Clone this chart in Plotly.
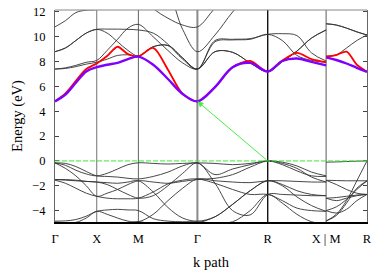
import plotly.graph_objects as go

# ---------------- k-path sample positions ----------------
k_main = [0.0, 0.125, 0.25, 0.375, 0.5, 0.625, 0.75, 0.875, 1.0,
          1.177, 1.354, 1.53, 1.707, 1.918, 2.129, 2.339, 2.55,
          2.725, 2.9, 3.075, 3.25]
k_mr = [3.25, 3.372, 3.495, 3.618, 3.74]
tick_pos = [0.0, 0.5, 1.0, 1.707, 2.55, 3.25, 3.74]
tick_text = ["Γ", "X", "M", "Γ", "R", "X | M", "R"]
y_ticks = [-4, -2, 0, 2, 4, 6, 8, 10, 12]

# ---------------- band energies (eV): 21 values along Γ-X-M-Γ-R-X, then 5 along M-R ----------------
cb_purple = [4.8, 5.35, 6.3, 7.2, 7.55, 7.75, 7.9, 8.2, 8.4, 7.75, 6.6, 5.4, 4.8,
             5.95, 7.55, 7.9, 7.2, 8.05, 8.25, 7.98, 7.7,
             8.35, 8.13, 7.85, 7.5, 7.18]
cb_red = [4.8, 5.45, 6.45, 7.4, 7.85, 8.45, 9.2, 8.6, 8.42, 9.1, 7.35, 5.4, 4.8,
          5.95, 7.55, 8.05, 7.2, 8.1, 8.7, 8.2, 7.95,
          8.42, 8.53, 8.8, 7.75, 7.18]
cb_b1 = [10.8, 11.3, 11.95, 12.15, 12.2, 12.6, 13.2, 13.6, 13.8, 12.3, 11.5, 10.95, 10.8,
         12.3, 13.5, 14.0, 14.2, 14.0, 13.5, 12.9, 12.4,
         13.8, 13.9, 14.0, 14.1, 14.2]
cb_b2 = [8.8, 9.1, 9.7, 10.3, 10.6, 10.62, 10.62, 10.6, 10.55, 10.3, 9.4, 8.2, 7.4,
         9.7, 9.8, 9.85, 10.2, 10.25, 10.1, 8.7, 8.05,
         11.05, 10.95, 10.7, 10.4, 10.15]
cb_b3 = [7.4, 7.5, 7.7, 7.95, 8.1, 8.9, 9.8, 10.7, 11.0, 10.0, 8.9, 7.9, 7.4,
         8.8, 8.75, 7.9, 7.2, 8.0, 8.85, 9.9, 10.55,
         8.42, 8.55, 9.1, 9.7, 10.15]
cb_b4 = [7.4, 7.45, 7.6, 7.8, 7.95, 8.2, 8.5, 8.55, 8.45, 9.2, 9.3, 8.3, 7.4,
         9.6, 9.75, 9.8, 10.2, 9.7, 8.5, 8.1, 7.95,
         8.35, 8.13, 7.85, 7.5, 7.18]
cb_b5 = [8.8, 9.1, 9.7, 10.3, 10.6, 10.3, 9.6, 8.9, 8.45, 9.2, 9.3, 8.3, 7.4,
         8.8, 8.75, 7.9, 7.2, 8.0, 8.85, 9.9, 10.55,
         11.05, 10.95, 10.7, 10.4, 10.15]
cb_b6 = [14.0, 14.0, 14.0, 14.0, 14.0, 14.0, 14.0, 14.0, 14.0, 14.0, 13.5, 10.6, 8.8,
         10.15, 12.0, 13.5, 14.0, 14.0, 14.0, 14.0, 14.0,
         14.0, 14.0, 14.0, 14.0, 14.0]

vb1 = [-0.16, -0.2, -0.45, -0.85, -1.2, -1.25, -1.3, -1.4, -1.45, -1.25, -0.9, -0.4, -0.16,
       -1.1, -0.65, -0.3, 0.0, -0.3, -0.8, -1.2, -1.25,
       -1.56, -1.58, -1.6, -1.6, -1.6]
vb2 = [-0.16, -0.6, -1.2, -2.0, -2.85, -2.6, -2.3, -1.9, -1.6, -1.7, -1.8, -1.65, -1.5,
       -1.4, -1.1, -0.5, 0.0, -0.2, -0.6, -1.3, -1.7,
       -1.56, -1.9, -2.3, -2.6, -2.7]
vb3 = [-0.16, -0.35, -0.75, -1.05, -1.2, -1.0, -0.65, -0.3, -0.15, -0.2, -0.25, -0.2, -0.16,
       -0.2, -0.3, -0.2, 0.0, -0.1, -0.4, -0.9, -1.2,
       -0.1, -0.08, -0.05, -0.02, 0.0]
vb4 = [-1.5, -1.55, -1.6, -1.65, -1.7, -1.75, -1.8, -1.7, -1.6, -2.5, -3.75, -4.6, -4.85,
       -4.5, -3.5, -2.4, -1.6, -1.9, -2.4, -2.7, -2.8,
       -4.0, -3.7, -3.1, -2.3, -1.6]
vb5 = [-1.55, -1.8, -2.2, -2.6, -2.85, -3.0, -3.05, -3.05, -3.0, -2.5, -1.85, -1.55, -1.45,
       -1.8, -2.3, -2.7, -2.7, -3.2, -3.8, -4.0, -4.06,
       -3.0, -2.95, -2.85, -2.75, -2.7]
vb6 = [-1.5, -1.5, -1.55, -1.65, -1.7, -1.9, -2.3, -2.7, -3.0, -2.8, -2.0, -1.0, -0.16,
       -1.8, -4.0, -4.35, -2.7, -2.7, -2.75, -2.8, -2.8,
       -3.0, -3.2, -3.0, -2.8, -2.7]
vb7 = [-4.85, -4.83, -4.72, -4.45, -4.06, -3.95, -3.9, -3.95, -4.0, -4.65, -4.85, -4.9, -4.9,
       -5.0, -4.9, -4.0, -2.7, -3.4, -4.3, -4.9, -5.1,
       -4.0, -4.2, -3.9, -3.2, -2.7]
vb8 = [-4.92, -4.98, -4.95, -4.6, -4.06, -4.3, -4.6, -4.85, -4.9, -4.3, -3.2, -2.2, -1.45,
       -1.6, -1.7, -1.75, -1.6, -1.6, -1.65, -1.7, -1.7,
       -4.84, -4.3, -3.2, -1.6, 0.0]
vb9 = [-5.0, -5.3, -5.5, -5.5, -5.4, -5.3, -5.15, -5.0, -4.9, -5.1, -5.3, -5.2, -5.0,
       -4.5, -3.5, -2.4, -1.6, -2.0, -2.9, -3.6, -4.06,
       -4.84, -4.4, -3.4, -2.2, -1.6]

black_bands = [cb_b1, cb_b2, cb_b3, cb_b4, cb_b5, cb_b6,
               vb1, vb2, vb3, vb4, vb5, vb6, vb7, vb8, vb9]
valence_bands = [vb1, vb2, vb3, vb4, vb5, vb6, vb7, vb8, vb9]

FONT = "Liberation Serif"
n_main = len(k_main)


def path_xy(band):
    xs = k_main + [None] + k_mr
    ys = band[:n_main] + [None] + band[n_main:]
    return xs, ys


fig = go.Figure()

for b in black_bands:
    xs, ys = path_xy(b)
    fig.add_trace(go.Scatter(x=xs, y=ys, mode="lines",
                             line=dict(color="#333333", width=0.9, shape="spline", smoothing=1.0),
                             hoverinfo="skip", showlegend=False))

xs, ys = path_xy(cb_red)
fig.add_trace(go.Scatter(x=xs, y=ys, mode="lines",
                         line=dict(color="#ff0000", width=1.8, shape="spline", smoothing=0.8),
                         hoverinfo="skip", showlegend=False))
xs, ys = path_xy(cb_purple)
fig.add_trace(go.Scatter(x=xs, y=ys, mode="lines",
                         line=dict(color="#8000ff", width=2.4, shape="spline", smoothing=1.0),
                         hoverinfo="skip", showlegend=False))

# vertical high-symmetry lines
shapes = []
vcolors = {1: ("#808080", 1.1), 2: ("#707070", 1.1), 3: ("#8a8a8a", 2.0),
           4: ("#000000", 1.3), 5: ("#808080", 1.3)}
for i, (c, w) in vcolors.items():
    shapes.append(dict(type="line", xref="x", yref="paper", x0=tick_pos[i], x1=tick_pos[i],
                       y0=0, y1=1, line=dict(color=c, width=w), layer="below"))
# top border
shapes.append(dict(type="line", xref="paper", yref="paper", x0=0, x1=1, y0=1, y1=1,
                   line=dict(color="#888888", width=1.2), layer="above"))
# Fermi level
shapes.append(dict(type="line", xref="paper", yref="y", x0=0, x1=1, y0=0, y1=0,
                   line=dict(color="#33ee33", width=1, dash="5px,2px"), layer="above"))

# arrow VBM (R) -> CBM (Γ)
i_R, i_G = 16, 12
vbm = max(b[i_R] for b in valence_bands)
cbm = cb_purple[i_G]

fig.update_layout(
    width=374, height=271,
    margin=dict(l=55, r=7, t=10, b=49),
    paper_bgcolor="white", plot_bgcolor="white",
    font=dict(family=FONT, color="black", size=12),
    shapes=shapes,
    annotations=[dict(x=k_main[i_G], y=cbm, ax=k_main[i_R], ay=vbm,
                      xref="x", yref="y", axref="x", ayref="y",
                      text="", showarrow=True, arrowhead=2, arrowsize=1.2,
                      arrowwidth=1, arrowcolor="#44ee44", standoff=0)],
    xaxis=dict(range=[0, 3.74], tickvals=tick_pos, ticktext=tick_text,
               showgrid=False, zeroline=False, ticks="", automargin=False,
               showline=True, linecolor="black", linewidth=1.6, mirror=False,
               ticklabelstandoff=4, tickfont=dict(family=FONT, size=12.5),
               title=dict(text="k path", font=dict(family=FONT, size=14.5), standoff=12)),
    yaxis=dict(range=[-4.92, 12.16], tickvals=y_ticks, automargin=False,
               showgrid=False, zeroline=False, ticks="inside", ticklen=4,
               tickcolor="#444", tickwidth=1,
               showline=True, linecolor="#666", linewidth=1.2, mirror="ticks",
               ticklabelstandoff=6, tickfont=dict(family=FONT, size=12.5),
               title=dict(text="Energy (eV)", font=dict(family=FONT, size=14.5), standoff=6)),
)

fig.write_html("out.html", config={"displayModeBar": False},
               post_script="document.body.style.margin='0';")
